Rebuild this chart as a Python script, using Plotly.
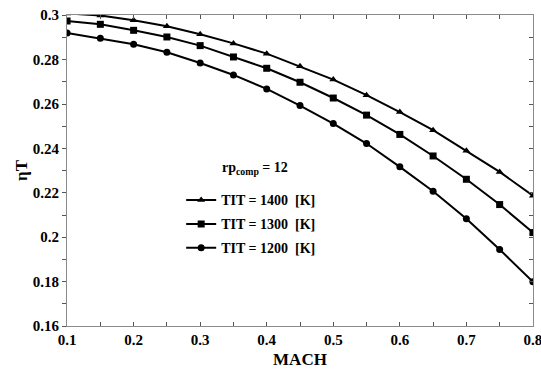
import plotly.graph_objects as go

mach = [0.1, 0.15, 0.2, 0.25, 0.3, 0.35, 0.4, 0.45, 0.5, 0.55, 0.6, 0.65, 0.7, 0.75, 0.8]
eta_1400 = [0.3008, 0.2999, 0.2977, 0.2950, 0.2914, 0.2873, 0.2827, 0.2770, 0.2710, 0.2640, 0.2564, 0.2482, 0.2389, 0.2294, 0.2187]
eta_1300 = [0.2974, 0.2959, 0.2932, 0.2902, 0.2863, 0.2812, 0.2761, 0.2698, 0.2627, 0.2550, 0.2463, 0.2366, 0.2261, 0.2147, 0.2021]
eta_1200 = [0.2920, 0.2896, 0.2869, 0.2833, 0.2785, 0.2731, 0.2668, 0.2593, 0.2512, 0.2422, 0.2317, 0.2207, 0.2083, 0.1945, 0.1799]
labels = ["TIT = 1400  [K]", "TIT = 1300  [K]", "TIT = 1200  [K]"]
symbols = ["triangle-up", "square", "circle"]
x_ticks = [0.1, 0.2, 0.3, 0.4, 0.5, 0.6, 0.7, 0.8]
y_ticks = [0.16, 0.18, 0.2, 0.22, 0.24, 0.26, 0.28, 0.3]
y_ticktext = ["0.16", "0.18", "0.2", "0.22", "0.24", "0.26", "0.28", "0.3"]

FONT = "Liberation Serif"
TXT = dict(family=FONT, size=14, color="black", weight="bold")
legend_names = ["legend", "legend2", "legend3"]
legend_y = [0.404, 0.327, 0.250]

fig = go.Figure()
for y, name, sym, lg in zip([eta_1400, eta_1300, eta_1200], labels, symbols, legend_names):
    fig.add_trace(go.Scatter(
        x=mach, y=y, name=name, mode="lines+markers",
        line=dict(color="black", width=2),
        marker=dict(symbol=sym, size=7, color="black"),
        legend=lg,
    ))

axis_common = dict(showline=True, linecolor="#8a8a8a", linewidth=1, showgrid=False, zeroline=False,
                   tickfont=dict(family=FONT, size=15, color="black", weight="bold"),
                   ticklen=4, tickcolor="#555", ticklabeloverflow="allow", automargin=False)
legends = {}
for lg, ly in zip(legend_names, legend_y):
    legends[lg] = dict(x=0.245, y=ly, xanchor="left", yanchor="middle",
                       bgcolor="rgba(0,0,0,0)", font=TXT, itemwidth=30)
fig.update_layout(
    width=541, height=369,
    margin=dict(l=67, r=8, t=15, b=43, autoexpand=False),
    paper_bgcolor="white", plot_bgcolor="white",
    showlegend=True,
    **legends,
    xaxis=dict(range=[0.0999, 0.8001], tickvals=x_ticks,
               ticks="inside", mirror="ticks",
               minor=dict(dtick=0.05, tick0=0.1, ticks="inside", ticklen=4, tickcolor="#555"),
               title=dict(text="MACH", font=dict(family=FONT, size=17, color="black", weight="bold"), standoff=8),
               **axis_common),
    yaxis=dict(range=[0.16, 0.3001], tickvals=y_ticks, ticktext=y_ticktext,
               ticks="outside",
               minor=dict(dtick=0.01, tick0=0.16, ticks="outside", ticklen=4, tickcolor="#555"),
               title=dict(text="ηT", font=dict(family=FONT, size=17, color="black", weight="bold"), standoff=0),
               **axis_common),
    yaxis2=dict(range=[0.16, 0.3001], overlaying="y", side="right", showticklabels=False,
                showline=True, linecolor="#8a8a8a", linewidth=1, showgrid=False, zeroline=False,
                automargin=False,
                tickvals=y_ticks, ticks="inside", ticklen=4, tickcolor="#555",
                minor=dict(dtick=0.01, tick0=0.16, ticks="inside", ticklen=4, tickcolor="#555")),
)
fig.add_trace(go.Scatter(x=[0.1], y=[0.2], yaxis="y2", mode="markers", marker=dict(opacity=0),
                         showlegend=False, hoverinfo="skip"))
fig.add_annotation(text="rp<sub>comp</sub> = 12", xref="paper", yref="paper", x=0.328, y=0.508,
                   xanchor="left", yanchor="middle", showarrow=False, font=TXT)
fig.write_html("out.html")
